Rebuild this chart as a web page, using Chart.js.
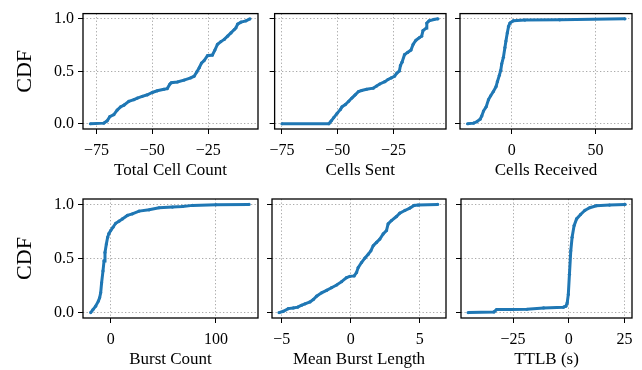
<!DOCTYPE html>
<html lang="en">
<head>
<meta charset="UTF-8">
<title>CDF panels</title>
<script src="https://cdn.jsdelivr.net/npm/chart.js@4"></script>
<style>
  body { margin: 0; background: #fff; }
  #wrap { position: relative; width: 642px; height: 370px; }
  #wrap canvas { position: absolute; }
</style>
</head>
<body>
<div id="wrap">
  <canvas id="c1" width="262" height="185" style="left:0;top:0"></canvas>
  <canvas id="c2" width="188" height="185" style="left:262px;top:0"></canvas>
  <canvas id="c3" width="192" height="185" style="left:450px;top:0"></canvas>
  <canvas id="c4" width="262" height="185" style="left:0;top:185px"></canvas>
  <canvas id="c5" width="188" height="185" style="left:262px;top:185px"></canvas>
  <canvas id="c6" width="192" height="185" style="left:450px;top:185px"></canvas>
</div>
<script>
// values
const totalCellX = [-77.7, -71.7, -70.2, -69.0, -67.2, -65.7, -64.2, -62.7, -60.5, -58.2, -56.7, -54.5, -52.2, -50.0, -47.8, -44.8, -43.3, -42.1, -41.5, -38.8, -35.8, -32.8, -31.3, -30.1, -29.0, -28.0, -26.8, -25.3, -23.1, -22.0, -20.8, -19.3, -17.8, -16.3, -14.8, -13.3, -12.6, -11.8, -10.3, -8.1, -6.3];
const totalCellY = [0, 0.006, 0.028, 0.068, 0.087, 0.13, 0.161, 0.177, 0.214, 0.23, 0.245, 0.261, 0.276, 0.298, 0.314, 0.329, 0.335, 0.379, 0.391, 0.398, 0.416, 0.438, 0.453, 0.494, 0.534, 0.578, 0.602, 0.649, 0.655, 0.702, 0.758, 0.783, 0.804, 0.835, 0.866, 0.898, 0.913, 0.95, 0.969, 0.981, 1.0];

const sentX = [-75, -54.0, -52.9, -51.8, -50.3, -48.8, -48.1, -46.6, -45.1, -43.7, -42.2, -40.7, -39.3, -37.1, -34.1, -32.6, -31.2, -28.9, -27.5, -26.0, -24.6, -23.5, -22.4, -21.9, -21.2, -20.1, -18.7, -17.2, -16.2, -15.0, -13.5, -12.4, -11.8, -10.3, -10.1, -9.1, -6.9, -5.1];
const sentY = [0, 0, 0.028, 0.059, 0.099, 0.137, 0.161, 0.183, 0.214, 0.245, 0.276, 0.307, 0.317, 0.329, 0.339, 0.36, 0.379, 0.401, 0.422, 0.438, 0.453, 0.484, 0.503, 0.556, 0.587, 0.658, 0.68, 0.702, 0.758, 0.795, 0.82, 0.835, 0.888, 0.913, 0.96, 0.981, 0.994, 1.0];

const receivedX = [-26.3, -22.7, -20.8, -18.8, -17.8, -16.8, -15.2, -13.8, -12.5, -10.9, -9.3, -8.5, -7.3, -6.5, -5.9, -4.9, -4.0, -3.4, -2.6, -1.8, -1.0, 1.0, 7.9, 28.7, 67.6];
const receivedY = [0, 0.006, 0.019, 0.043, 0.075, 0.121, 0.161, 0.23, 0.267, 0.307, 0.354, 0.401, 0.463, 0.509, 0.571, 0.634, 0.727, 0.789, 0.866, 0.929, 0.96, 0.981, 0.988, 0.991, 1.0];

const burstX = [-19.0, -16.8, -14.3, -11.7, -10.5, -9.5, -8.6, -7.3, -6.3, -5.4, -4.1, -2.9, -1.6, 0, 2.2, 4.8, 7.9, 11.1, 15.9, 20.6, 27.0, 36.5, 46.0, 58.7, 68.3, 77.8, 100, 131.5];
const burstY = [0, 0.028, 0.059, 0.106, 0.137, 0.183, 0.276, 0.385, 0.478, 0.556, 0.634, 0.696, 0.733, 0.758, 0.789, 0.826, 0.845, 0.866, 0.898, 0.913, 0.938, 0.95, 0.969, 0.975, 0.981, 0.991, 0.997, 1.0];

const meanBurstX = [-5.19, -4.88, -4.52, -4.16, -3.84, -3.55, -3.31, -2.95, -2.71, -2.47, -2.11, -1.75, -1.39, -1.02, -0.66, -0.30, -0.06, 0.25, 0.42, 0.54, 0.78, 1.02, 1.27, 1.46, 1.63, 1.87, 2.11, 2.35, 2.59, 2.71, 2.95, 3.31, 3.55, 3.92, 4.28, 4.59, 4.88, 6.3];
const meanBurstY = [0, 0.012, 0.037, 0.043, 0.05, 0.068, 0.081, 0.099, 0.121, 0.152, 0.183, 0.205, 0.23, 0.255, 0.286, 0.323, 0.335, 0.339, 0.37, 0.416, 0.463, 0.503, 0.54, 0.571, 0.618, 0.649, 0.68, 0.727, 0.758, 0.82, 0.851, 0.888, 0.919, 0.944, 0.966, 0.991, 0.994, 1.0];

const ttlbX = [-45.2, -33.6, -32.4, -26.2, -18.8, -11.3, -2.4, -1.3, -0.7, -0.2, 0.3, 0.9, 1.5, 2.4, 3.5, 5.3, 7.2, 9.4, 12.4, 18.3, 25.3];
const ttlbY = [0, 0.006, 0.028, 0.028, 0.031, 0.043, 0.05, 0.059, 0.09, 0.168, 0.354, 0.571, 0.696, 0.804, 0.866, 0.907, 0.944, 0.969, 0.988, 0.994, 1.0];

const xLabels = ['Total Cell Count', 'Cells Sent', 'Cells Received', 'Burst Count', 'Mean Burst Length', 'TTLB (s)'];
const xTickValues = [[-75, -50, -25], [-75, -50, -25], [0, 50], [0, 100], [-5, 0, 5], [-25, 0, 25]];
const yTickValues = [0, 0.5, 1.0];

const BLUE = '#1f77b4';
const FONT = 'Liberation Serif';

// frame around each axes box
const frame = {
  id: 'frame',
  afterDraw(chart) {
    const a = chart.chartArea, ctx = chart.ctx;
    ctx.save();
    ctx.strokeStyle = '#000';
    ctx.lineWidth = 1.3;
    ctx.strokeRect(a.left, a.top, a.right - a.left, a.bottom - a.top);
    ctx.restore();
  }
};

const panels = [
  { id: 'c1', xs: totalCellX, ys: totalCellY, min: -81.0, max: -2.7, yw: 83, pad: { top: 10, right: 4 }, xh: 56, tb: 4, first: true },
  { id: 'c2', xs: sentX, ys: sentY, min: -78.3, max: -1.5, yw: 11, pad: { top: 10, right: 3 }, xh: 56, tb: 4 },
  { id: 'c3', xs: receivedX, ys: receivedY, min: -30.8, max: 71.8, yw: 10, pad: { top: 10, right: 10 }, xh: 56, tb: 4 },
  { id: 'c4', xs: burstX, ys: burstY, min: -26.3, max: 140, yw: 83, pad: { top: 14, right: 4 }, xh: 52, tb: 0, first: true },
  { id: 'c5', xs: meanBurstX, ys: meanBurstY, min: -5.7, max: 6.9, yw: 10, pad: { top: 14, right: 3 }, xh: 52, tb: 0 },
  { id: 'c6', xs: ttlbX, ys: ttlbY, min: -48.4, max: 28.4, yw: 11, pad: { top: 14, right: 10 }, xh: 52, tb: 0 }
];

const gridOpts = {
  color: '#aaaaaa',
  lineWidth: 1,
  drawTicks: true,
  tickLength: 5,
  tickColor: '#000',
  tickWidth: 1,
  tickBorderDash: []
};
// in v4 the dash of the grid lines lives under border
const borderOpts = { display: false, dash: [1.3, 2.2] };

panels.forEach((p, i) => {
  new Chart(document.getElementById(p.id), {
    type: 'line',
    data: {
      datasets: [{
        data: p.xs.map((x, k) => ({ x: x, y: p.ys[k] })),
        borderColor: BLUE,
        backgroundColor: BLUE,
        borderWidth: 3,
        pointRadius: 1.6,
        pointBorderWidth: 0,
        pointBackgroundColor: BLUE,
        tension: 0
      }]
    },
    options: {
      responsive: false,
      animation: false,
      devicePixelRatio: 1,
      layout: { padding: { top: p.pad.top, right: p.pad.right, left: 0, bottom: 0 } },
      plugins: { legend: { display: false }, tooltip: { enabled: false } },
      scales: {
        x: {
          type: 'linear',
          min: p.min,
          max: p.max,
          afterBuildTicks: s => { s.ticks = xTickValues[i].map(v => ({ value: v })); },
          afterFit: s => { s.height = p.xh; },
          grid: gridOpts,
          border: borderOpts,
          ticks: {
            color: '#000',
            padding: 7,
            maxRotation: 0,
            font: { family: FONT, size: 16 },
            callback: v => String(v).replace('-', '\u2212')
          },
          title: {
            display: true,
            text: xLabels[i],
            color: '#000',
            font: { family: FONT, size: 17 },
            padding: { top: 0, bottom: p.tb }
          }
        },
        y: {
          min: -0.05,
          max: 1.05,
          afterBuildTicks: s => { s.ticks = yTickValues.map(v => ({ value: v })); },
          afterFit: s => { s.width = p.yw; },
          grid: gridOpts,
          border: borderOpts,
          ticks: {
            color: '#000',
            padding: 4,
            font: { family: FONT, size: 16 },
            callback: v => p.first ? v.toFixed(1) : ''
          },
          title: {
            display: !!p.first,
            text: 'CDF',
            color: '#000',
            font: { family: FONT, size: 22 },
            padding: { top: 12, bottom: 0 }
          }
        }
      }
    },
    plugins: [frame]
  });
});
</script>
</body>
</html>
